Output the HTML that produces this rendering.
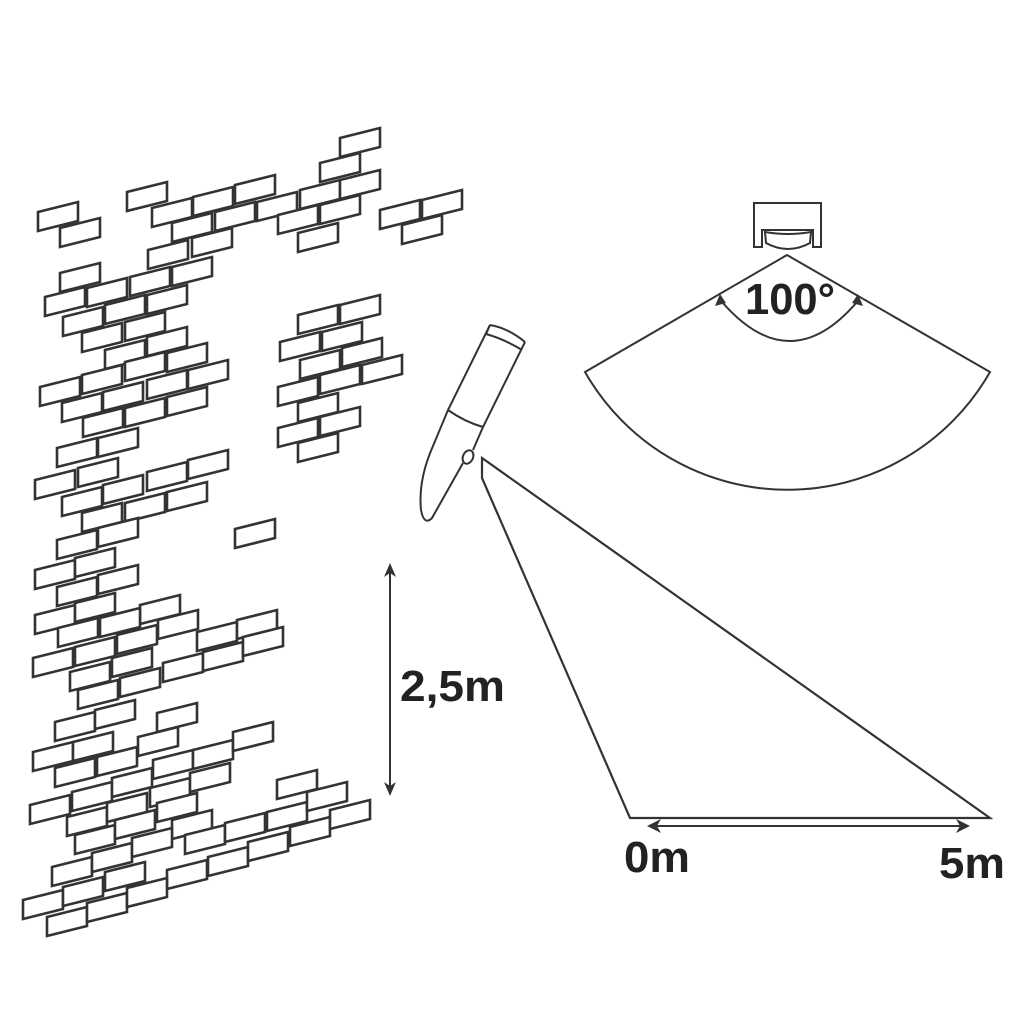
<!DOCTYPE html>
<html><head><meta charset="utf-8"><style>
html,body{margin:0;padding:0;background:#fff;}
svg{display:block}
text{font-family:"Liberation Sans",sans-serif;font-weight:bold;fill:#222}
</style></head><body>
<svg width="1010" height="1010" viewBox="0 0 1010 1010" xmlns="http://www.w3.org/2000/svg">
<defs>
<path id="b" d="M0,-1 L40,-11 L40,8 L0,18 Z" fill="#fff" stroke="#333" stroke-width="2.6" stroke-linejoin="miter"/>
</defs>
<g>
<use href="#b" x="38" y="213"/><use href="#b" x="60" y="229"/><use href="#b" x="127" y="193"/><use href="#b" x="152" y="209"/>
<use href="#b" x="193" y="198"/><use href="#b" x="235" y="186"/><use href="#b" x="172" y="224"/><use href="#b" x="215" y="213"/>
<use href="#b" x="257" y="203"/><use href="#b" x="300" y="191"/><use href="#b" x="340" y="139"/><use href="#b" x="320" y="164"/>
<use href="#b" x="340" y="181"/><use href="#b" x="278" y="216"/><use href="#b" x="320" y="206"/><use href="#b" x="298" y="234"/>
<use href="#b" x="380" y="211"/><use href="#b" x="422" y="201"/><use href="#b" x="402" y="226"/><use href="#b" x="148" y="251"/>
<use href="#b" x="192" y="239"/><use href="#b" x="60" y="274"/><use href="#b" x="45" y="298"/><use href="#b" x="87" y="289"/>
<use href="#b" x="130" y="278"/><use href="#b" x="172" y="268"/><use href="#b" x="63" y="318"/><use href="#b" x="105" y="306"/>
<use href="#b" x="147" y="296"/><use href="#b" x="82" y="334"/><use href="#b" x="125" y="323"/><use href="#b" x="105" y="351"/>
<use href="#b" x="147" y="338"/><use href="#b" x="40" y="388"/><use href="#b" x="82" y="376"/><use href="#b" x="125" y="363"/>
<use href="#b" x="167" y="354"/><use href="#b" x="62" y="404"/><use href="#b" x="103" y="393"/><use href="#b" x="147" y="381"/>
<use href="#b" x="188" y="371"/><use href="#b" x="83" y="419"/><use href="#b" x="125" y="409"/><use href="#b" x="167" y="398"/>
<use href="#b" x="57" y="449"/><use href="#b" x="98" y="439"/><use href="#b" x="35" y="481"/><use href="#b" x="78" y="469"/>
<use href="#b" x="62" y="498"/><use href="#b" x="103" y="486"/><use href="#b" x="147" y="473"/><use href="#b" x="188" y="461"/>
<use href="#b" x="82" y="514"/><use href="#b" x="125" y="504"/><use href="#b" x="167" y="493"/><use href="#b" x="57" y="541"/>
<use href="#b" x="98" y="529"/><use href="#b" x="235" y="530"/>
<use href="#b" x="298" y="316"/><use href="#b" x="340" y="306"/><use href="#b" x="280" y="343"/><use href="#b" x="322" y="333"/>
<use href="#b" x="300" y="361"/><use href="#b" x="342" y="349"/><use href="#b" x="362" y="366"/><use href="#b" x="278" y="388"/>
<use href="#b" x="320" y="376"/><use href="#b" x="298" y="404"/><use href="#b" x="278" y="429"/><use href="#b" x="320" y="418"/>
<use href="#b" x="298" y="444"/>
<use href="#b" x="35" y="571"/><use href="#b" x="75" y="559"/><use href="#b" x="57" y="588"/><use href="#b" x="98" y="576"/>
<use href="#b" x="35" y="616"/><use href="#b" x="75" y="604"/><use href="#b" x="140" y="606"/><use href="#b" x="58" y="629"/>
<use href="#b" x="100" y="619"/><use href="#b" x="158" y="621"/><use href="#b" x="33" y="659"/><use href="#b" x="75" y="648"/>
<use href="#b" x="117" y="636"/><use href="#b" x="197" y="633"/><use href="#b" x="237" y="621"/><use href="#b" x="70" y="673"/>
<use href="#b" x="112" y="659"/><use href="#b" x="163" y="664"/><use href="#b" x="203" y="653"/><use href="#b" x="243" y="638"/>
<use href="#b" x="78" y="691"/><use href="#b" x="120" y="679"/><use href="#b" x="55" y="723"/><use href="#b" x="95" y="711"/>
<use href="#b" x="157" y="714"/><use href="#b" x="33" y="753"/><use href="#b" x="73" y="743"/><use href="#b" x="138" y="738"/>
<use href="#b" x="55" y="769"/><use href="#b" x="97" y="758"/><use href="#b" x="153" y="761"/><use href="#b" x="193" y="751"/>
<use href="#b" x="233" y="733"/><use href="#b" x="30" y="806"/><use href="#b" x="72" y="793"/><use href="#b" x="112" y="779"/>
<use href="#b" x="150" y="789"/><use href="#b" x="190" y="774"/><use href="#b" x="67" y="818"/><use href="#b" x="107" y="804"/>
<use href="#b" x="157" y="804"/><use href="#b" x="75" y="836"/><use href="#b" x="115" y="821"/><use href="#b" x="172" y="821"/>
<use href="#b" x="52" y="868"/><use href="#b" x="92" y="854"/><use href="#b" x="132" y="839"/><use href="#b" x="185" y="836"/>
<use href="#b" x="225" y="824"/><use href="#b" x="267" y="813"/><use href="#b" x="277" y="781"/><use href="#b" x="307" y="793"/>
<use href="#b" x="23" y="901"/><use href="#b" x="63" y="888"/><use href="#b" x="105" y="873"/><use href="#b" x="167" y="871"/>
<use href="#b" x="208" y="858"/><use href="#b" x="248" y="843"/><use href="#b" x="290" y="828"/><use href="#b" x="330" y="811"/>
<use href="#b" x="47" y="918"/><use href="#b" x="87" y="904"/><use href="#b" x="127" y="889"/>
</g>
<g fill="none" stroke="#333" stroke-width="2">
<path d="M525,342 L483,427 L473,450"/>
<path d="M490,325 L448,410 L433,446 Q418,480 421,510 Q424,526 432,518 L463,463"/>
<path d="M490,325 Q508,328 525,342"/>
<path d="M490,325 L486,334 Q504,339 522,350"/>
<path d="M448,410 Q465,422 483,427"/>
<ellipse cx="468" cy="457" rx="5" ry="7" transform="rotate(25 468 457)"/>
<path d="M482,458 L482,478 L630,818 L990,818 Z" stroke-width="2.2"/>
<path d="M787,255 L585,372 A233,233 0 0 0 990,372 Z" stroke-width="2"/>
<path d="M754,247 L754,203 L821,203 L821,247 L813,247 L813,230 L762,230 L762,247 Z"/>
<path d="M765,232 Q788,236 811,232 L810,243 Q788,255 766,243 Z"/>
<path d="M722,302 Q790,380 857,302"/>
</g>
<g fill="#333">
<path d="M720,294 L715,306 L726,303 Z"/>
<path d="M858,294 L852,303 L863,306 Z"/>
<path d="M390,569 L390,790" stroke="#333" stroke-width="2"/>
<path d="M390,563 L384,577 L390,573 L396,577 Z"/>
<path d="M390,796 L384,782 L390,786 L396,782 Z"/>
<path d="M654,826 L962,826" stroke="#333" stroke-width="2"/>
<path d="M647,826 L661,819 L657,826 L661,833 Z"/>
<path d="M970,826 L956,819 L960,826 L956,833 Z"/>
</g>
<text x="400" y="701" font-size="44" textLength="105" lengthAdjust="spacingAndGlyphs">2,5m</text>
<text x="624" y="872" font-size="44" textLength="66" lengthAdjust="spacingAndGlyphs">0m</text>
<text x="939" y="878" font-size="44" textLength="66" lengthAdjust="spacingAndGlyphs">5m</text>
<text x="745" y="314" font-size="44" textLength="90" lengthAdjust="spacingAndGlyphs">100°</text>
</svg>
</body></html>
